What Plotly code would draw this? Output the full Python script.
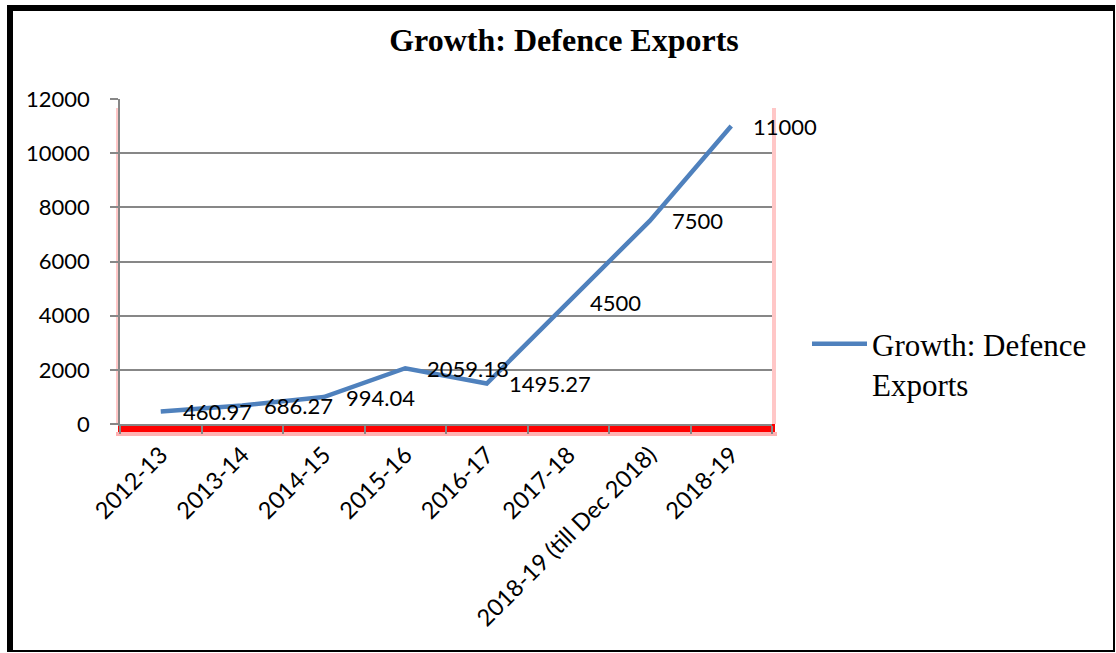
import plotly.graph_objects as go

categories = ["2012-13", "2013-14", "2014-15", "2015-16", "2016-17", "2017-18",
              "2018-19 (till Dec 2018)", "2018-19"]
values = [460.97, 686.27, 994.04, 2059.18, 1495.27, 4500, 7500, 11000]
series_name = "Growth: Defence<br>Exports"
title_text = "Growth: Defence Exports"

W, H = 1116, 653
L, R, T, B = 120, 772, 99, 424  # plot area pixels


def px(x):
    return (x - L) / (R - L)


def py(y):
    return (B - y) / (B - T)


LABEL_FONT = dict(family="Lato, 'Open Sans', sans-serif", size=22, color="black")
XTICK_FONT = dict(family="Lato, 'Open Sans', sans-serif", size=23.5, color="black")
GRID = "#878787"

fig = go.Figure()
fig.add_trace(go.Scatter(
    x=categories, y=values, mode="lines", name=series_name,
    line=dict(color="#4F81BD", width=4.5),
))

annotations = []
for c, v in zip(categories, values):
    annotations.append(dict(
        x=c, y=v, xref="x", yref="y", text=f"{v:g}", showarrow=False,
        xanchor="left", yanchor="middle", xshift=20, font=LABEL_FONT,
    ))

shapes = []
# red shadow around plot area
shapes.append(dict(type="rect", xref="paper", yref="paper", layer="below",
                   x0=px(118), x1=px(775), y0=py(424), y1=py(432),
                   fillcolor="rgba(255,0,0,1)", line=dict(width=0)))
shapes.append(dict(type="rect", xref="paper", yref="paper", layer="below",
                   x0=px(116), x1=px(777), y0=py(432), y1=py(436),
                   fillcolor="rgba(255,0,0,0.3)", line=dict(width=0)))
shapes.append(dict(type="rect", xref="paper", yref="paper", layer="below",
                   x0=px(116), x1=px(120), y0=py(108), y1=py(424),
                   fillcolor="rgba(255,0,0,0.22)", line=dict(width=0)))
shapes.append(dict(type="rect", xref="paper", yref="paper", layer="below",
                   x0=px(772), x1=px(776), y0=py(108), y1=py(424),
                   fillcolor="rgba(255,0,0,0.22)", line=dict(width=0)))
# outer frame
shapes.append(dict(type="rect", xref="paper", yref="paper", layer="above",
                   x0=px(8), x1=px(1114), y0=py(8), y1=py(651),
                   line=dict(color="black", width=2), fillcolor="rgba(0,0,0,0)"))
shapes.append(dict(type="rect", xref="paper", yref="paper", layer="above",
                   x0=px(7), x1=px(1115), y0=py(5), y1=py(11),
                   fillcolor="black", line=dict(width=0)))
shapes.append(dict(type="rect", xref="paper", yref="paper", layer="above",
                   x0=px(7), x1=px(13), y0=py(5), y1=py(652),
                   fillcolor="black", line=dict(width=0)))

fig.update_layout(
    width=W, height=H,
    margin=dict(l=L, r=W - R, t=T, b=H - B),
    paper_bgcolor="white", plot_bgcolor="white",
    title=dict(text=f"<b>{title_text}</b>", x=564 / W, xanchor="center",
               y=1 - 40 / H, yanchor="middle", xref="container", yref="container",
               font=dict(family="'Liberation Serif', 'Times New Roman', serif",
                         size=32, color="black")),
    showlegend=True,
    legend=dict(x=px(807), y=py(317), xanchor="left", yanchor="top",
                valign="top", itemwidth=55,
                font=dict(family="'Liberation Serif', 'Times New Roman', serif",
                          size=31, color="black"),
                bgcolor="rgba(0,0,0,0)"),
    xaxis=dict(type="category", range=[-0.5, len(categories) - 0.5],
               showgrid=False, showline=True, linecolor=GRID,
               linewidth=1.5, ticks="outside", tickson="boundaries", ticklen=8,
               tickcolor=GRID, tickwidth=1.5, tickangle=-45, tickfont=XTICK_FONT,
               ticklabelstandoff=6, fixedrange=True),
    yaxis=dict(range=[0, 12000], dtick=2000, tickformat="d", showgrid=True,
               gridcolor=GRID, gridwidth=1.5, showline=True, linecolor=GRID,
               linewidth=1.5, ticks="outside", ticklen=8, tickcolor=GRID,
               tickwidth=1.5, tickfont=LABEL_FONT, ticklabelstandoff=16,
               zeroline=False, fixedrange=True),
    annotations=annotations,
    shapes=shapes,
)

fig.write_html("out.html")
